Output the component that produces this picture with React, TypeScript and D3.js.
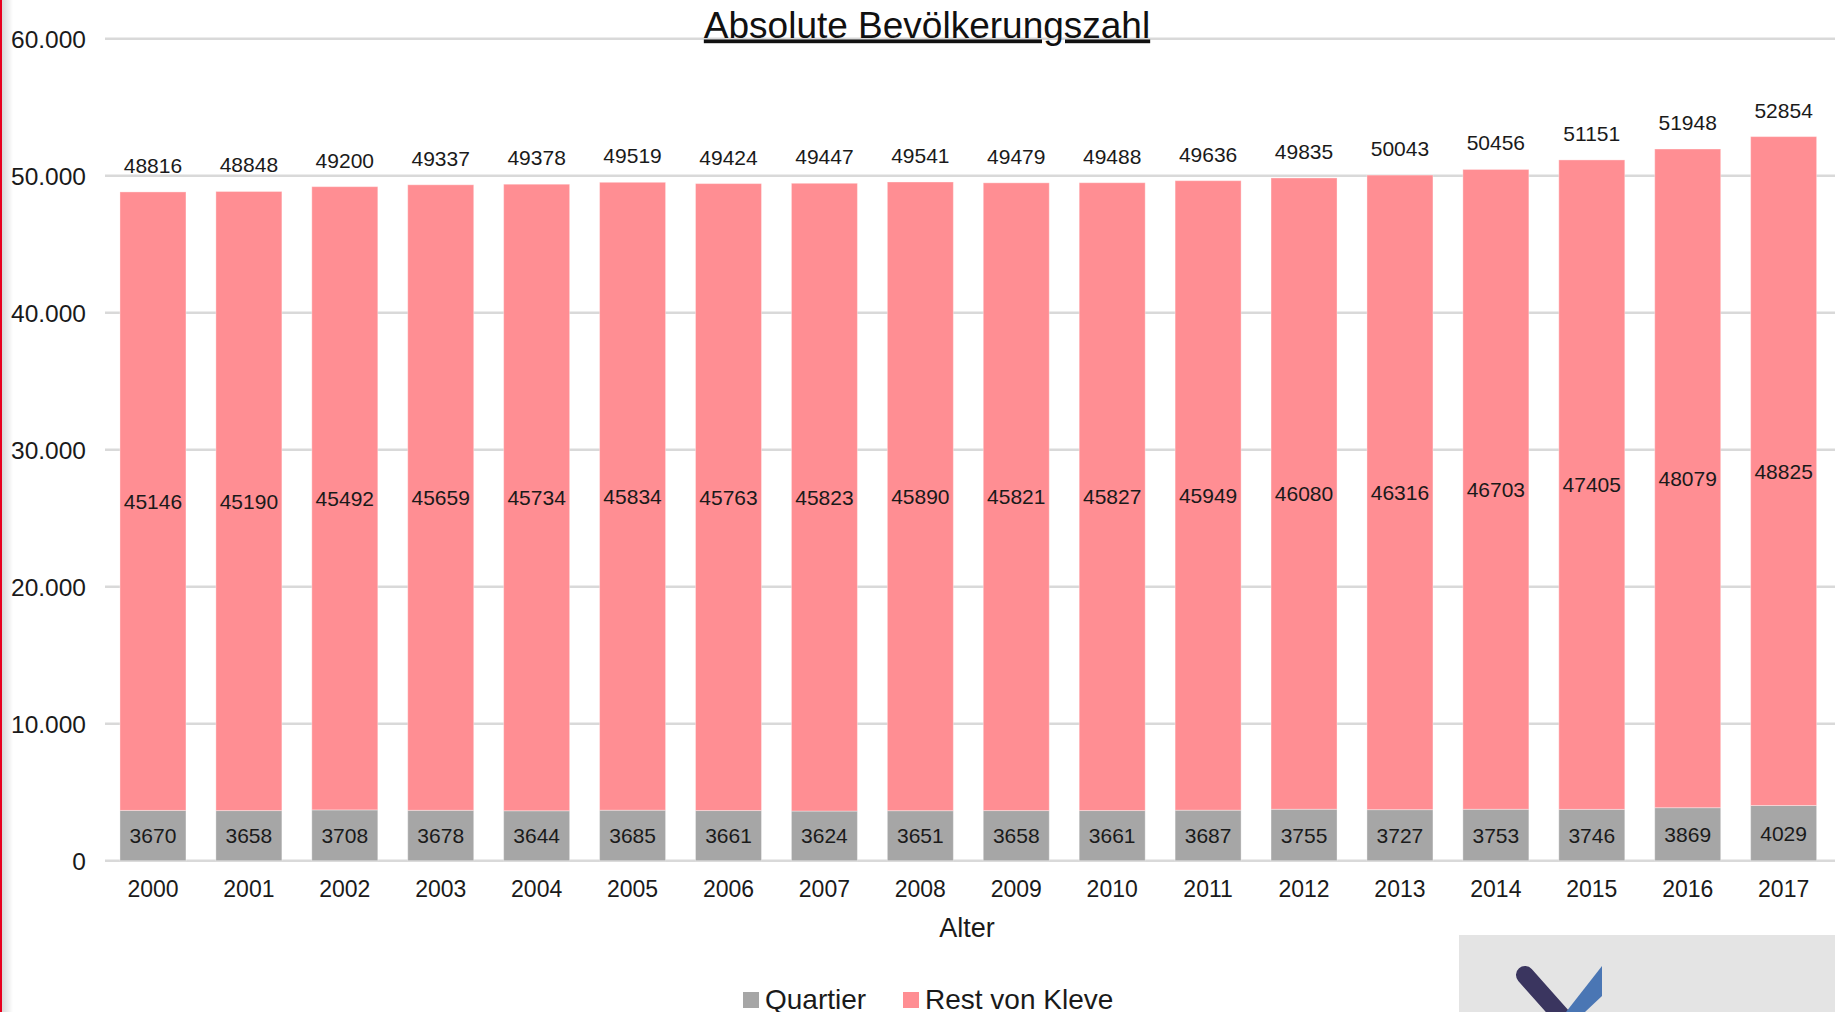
import React from "react";
import * as d3 from "d3";

const years = ["2000","2001","2002","2003","2004","2005","2006","2007","2008","2009","2010","2011","2012","2013","2014","2015","2016","2017"];
const quartier = [3670,3658,3708,3678,3644,3685,3661,3624,3651,3658,3661,3687,3755,3727,3753,3746,3869,4029];
const restVonKleve = [45146,45190,45492,45659,45734,45834,45763,45823,45890,45821,45827,45949,46080,46316,46703,47405,48079,48825];
const totals = [48816,48848,49200,49337,49378,49519,49424,49447,49541,49479,49488,49636,49835,50043,50456,51151,51948,52854];
const yTicks = [0,10000,20000,30000,40000,50000,60000];
const seriesNames = ["Quartier","Rest von Kleve"];

const W = 1835, H = 1012;
const FONT = "'Liberation Sans', Arial, Helvetica, sans-serif";
const GRAY = "#a6a6a6";
const PINK = "#ff8e93";
const GRID = "#d9d9d9";

export default function App() {
  const x = d3.scaleBand<string>().domain(years).range([105, 1831.6]).paddingInner(0.312).paddingOuter(0.156);
  const y = d3.scaleLinear().domain([0, 60000]).range([860.7, 38.7]);
  const fmt = (v: number) => d3.format(",")(v).replace(/,/g, ".");
  const bw = x.bandwidth();
  const cols = [GRAY, PINK];

  return (
    <svg width={W} height={H} style={{ position: "absolute", left: 0, top: 0, background: "#fff" }} fontFamily={FONT}>
      <defs>
        <linearGradient id="edge" x1="0" x2="1" y1="0" y2="0">
          <stop offset="0" stopColor="#d8d8d8" />
          <stop offset="1" stopColor="#ffffff" />
        </linearGradient>
      </defs>
      <rect x={0} y={0} width={W} height={H} fill="#fff" />
      <rect x={2} y={0} width={11} height={H} fill="url(#edge)" />
      <rect x={0} y={0} width={2} height={H} fill="#e8001e" />

      {yTicks.map((t) => (
        <g key={t}>
          <line x1={105} x2={W} y1={y(t)} y2={y(t)} stroke={GRID} strokeWidth={2.5} />
          <text x={86} y={y(t)} dy="0.36em" textAnchor="end" fontSize={24.5} fill="#1a1a1a">
            {t === 0 ? "0" : fmt(t)}
          </text>
        </g>
      ))}

      {years.map((yr, i) => {
        const x0 = x(yr) as number;
        const q = quartier[i];
        const r = restVonKleve[i];
        const cx = x0 + bw / 2;
        return (
          <g key={yr}>
            <rect x={x0} y={y(q)} width={bw} height={y(0) - y(q)} fill={GRAY} stroke="#ffffff" strokeOpacity={0.35} strokeWidth={1} />
            <rect x={x0} y={y(totals[i])} width={bw} height={y(q) - y(totals[i])} fill={PINK} stroke="#ffffff" strokeOpacity={0.35} strokeWidth={1} />
            <text x={cx} y={(y(0) + y(q)) / 2} dy="0.36em" textAnchor="middle" fontSize={21} fill="#1a1a1a">{q}</text>
            <text x={cx} y={(y(q) + y(totals[i])) / 2} dy="0.36em" textAnchor="middle" fontSize={21} fill="#1a1a1a">{r}</text>
            <text x={cx} y={y(totals[i]) - 19} textAnchor="middle" fontSize={21} fill="#1a1a1a">{totals[i]}</text>
            <text x={cx} y={897} textAnchor="middle" fontSize={23} fill="#1a1a1a">{yr}</text>
          </g>
        );
      })}

      <text x={927} y={37.5} textAnchor="middle" fontSize={37} fill="#111" textDecoration="underline">Absolute Bevölkerungszahl</text>

      <text x={967} y={937} textAnchor="middle" fontSize={27} fill="#1a1a1a">Alter</text>

      {seriesNames.map((n, i) => {
        const lx = [743, 903][i];
        return (
          <g key={n}>
            <rect x={lx} y={992} width={16} height={16} fill={cols[i]} />
            <text x={lx + 22} y={1009} fontSize={28} fill="#1a1a1a">{n}</text>
          </g>
        );
      })}

      <rect x={1459} y={935} width={W - 1459} height={H - 935} fill="#e4e4e4" />
      <line x1={1525} y1={975} x2={1565} y2={1020} stroke="#3a355f" strokeWidth={18} strokeLinecap="round" />
      <polygon points="1602,966 1602,996 1585,1012 1566,1012" fill="#4a76b4" />
    </svg>
  );
}
